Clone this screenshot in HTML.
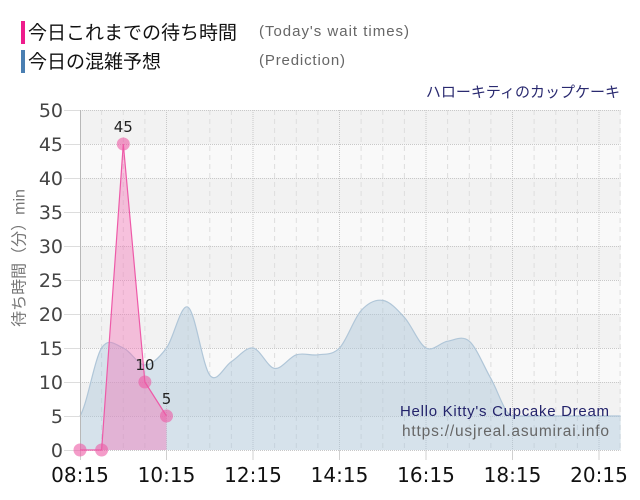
<!DOCTYPE html>
<html><head><meta charset="utf-8"><style>
html,body{margin:0;padding:0;background:#fff;}
svg{display:block;}
</style></head><body>
<svg width="640" height="500" viewBox="0 0 640 500" xmlns="http://www.w3.org/2000/svg">
<rect x="0" y="0" width="640" height="500" fill="#fff"/>
<!-- legend -->
<rect x="21" y="21" width="4" height="23" fill="#ee1c8c"/>
<rect x="21" y="50" width="4" height="23" fill="#4a7fb2"/>
<text x="28" y="39" font-family="'Liberation Sans','Noto Sans CJK JP',sans-serif" font-size="19" fill="#111">今日これまでの待ち時間</text>
<text x="28" y="68" font-family="'Liberation Sans','Noto Sans CJK JP',sans-serif" font-size="19" fill="#111">今日の混雑予想</text>
<text x="259" y="36" font-family="'Liberation Sans',sans-serif" font-size="15" fill="#666" textLength="150">(Today's wait times)</text>
<text x="259" y="65" font-family="'Liberation Sans',sans-serif" font-size="15" fill="#666" textLength="86">(Prediction)</text>
<text x="620" y="97" text-anchor="end" font-family="'Liberation Sans','Noto Sans CJK JP',sans-serif" font-size="15" fill="#2a2a70">ハローキティのカップケーキ</text>

<!-- bands -->
<g>
<rect x="80" y="110" width="540.6" height="34" fill="#f2f2f2"/>
<rect x="80" y="144" width="540.6" height="34" fill="#f9f9f9"/>
<rect x="80" y="178" width="540.6" height="34" fill="#f2f2f2"/>
<rect x="80" y="212" width="540.6" height="34" fill="#f9f9f9"/>
<rect x="80" y="246" width="540.6" height="34" fill="#f2f2f2"/>
<rect x="80" y="280" width="540.6" height="34" fill="#f9f9f9"/>
<rect x="80" y="314" width="540.6" height="34" fill="#f2f2f2"/>
<rect x="80" y="348" width="540.6" height="34" fill="#f9f9f9"/>
<rect x="80" y="382" width="540.6" height="34" fill="#f2f2f2"/>
<rect x="80" y="416" width="540.6" height="34" fill="#f9f9f9"/>
</g>
<!-- y tick lines left -->
<g stroke="#dddddd" stroke-width="1">
<line x1="64" y1="110.5" x2="80" y2="110.5"/>
<line x1="64" y1="144.5" x2="80" y2="144.5"/>
<line x1="64" y1="178.5" x2="80" y2="178.5"/>
<line x1="64" y1="212.5" x2="80" y2="212.5"/>
<line x1="64" y1="246.5" x2="80" y2="246.5"/>
<line x1="64" y1="280.5" x2="80" y2="280.5"/>
<line x1="64" y1="314.5" x2="80" y2="314.5"/>
<line x1="64" y1="348.5" x2="80" y2="348.5"/>
<line x1="64" y1="382.5" x2="80" y2="382.5"/>
<line x1="64" y1="416.5" x2="80" y2="416.5"/>
<line x1="64" y1="450.5" x2="80" y2="450.5"/>
</g>
<!-- minor vertical dashed -->
<g stroke="#dedede" stroke-width="1" stroke-dasharray="5 4">
<line x1="101.6" y1="110" x2="101.6" y2="450"/>
<line x1="123.3" y1="110" x2="123.3" y2="450"/>
<line x1="144.9" y1="110" x2="144.9" y2="450"/>
<line x1="188.1" y1="110" x2="188.1" y2="450"/>
<line x1="209.8" y1="110" x2="209.8" y2="450"/>
<line x1="231.4" y1="110" x2="231.4" y2="450"/>
<line x1="274.6" y1="110" x2="274.6" y2="450"/>
<line x1="296.3" y1="110" x2="296.3" y2="450"/>
<line x1="317.9" y1="110" x2="317.9" y2="450"/>
<line x1="361.1" y1="110" x2="361.1" y2="450"/>
<line x1="382.8" y1="110" x2="382.8" y2="450"/>
<line x1="404.4" y1="110" x2="404.4" y2="450"/>
<line x1="447.6" y1="110" x2="447.6" y2="450"/>
<line x1="469.3" y1="110" x2="469.3" y2="450"/>
<line x1="490.9" y1="110" x2="490.9" y2="450"/>
<line x1="534.1" y1="110" x2="534.1" y2="450"/>
<line x1="555.8" y1="110" x2="555.8" y2="450"/>
<line x1="577.4" y1="110" x2="577.4" y2="450"/>
<line x1="620.1" y1="110" x2="620.1" y2="450"/>
</g>
<!-- major vertical dotted -->
<g stroke="#c8c8c8" stroke-width="1" stroke-dasharray="1 1">
<line x1="166.5" y1="110" x2="166.5" y2="450"/>
<line x1="253" y1="110" x2="253" y2="450"/>
<line x1="339.5" y1="110" x2="339.5" y2="450"/>
<line x1="426" y1="110" x2="426" y2="450"/>
<line x1="512.5" y1="110" x2="512.5" y2="450"/>
<line x1="599" y1="110" x2="599" y2="450"/>
</g>
<!-- major ticks below -->
<g stroke="#d0d0d0" stroke-width="1">
<line x1="166.5" y1="450" x2="166.5" y2="460"/>
<line x1="253" y1="450" x2="253" y2="460"/>
<line x1="339.5" y1="450" x2="339.5" y2="460"/>
<line x1="426" y1="450" x2="426" y2="460"/>
<line x1="512.5" y1="450" x2="512.5" y2="460"/>
<line x1="599" y1="450" x2="599" y2="460"/>
<line x1="80.5" y1="450" x2="80.5" y2="460"/>
</g>
<!-- horizontal dotted grid -->
<g stroke="#c8c8c8" stroke-width="1" stroke-dasharray="1 1">
<line x1="80" y1="110.5" x2="620.6" y2="110.5"/>
<line x1="80" y1="144.5" x2="620.6" y2="144.5"/>
<line x1="80" y1="178.5" x2="620.6" y2="178.5"/>
<line x1="80" y1="212.5" x2="620.6" y2="212.5"/>
<line x1="80" y1="246.5" x2="620.6" y2="246.5"/>
<line x1="80" y1="280.5" x2="620.6" y2="280.5"/>
<line x1="80" y1="314.5" x2="620.6" y2="314.5"/>
<line x1="80" y1="348.5" x2="620.6" y2="348.5"/>
<line x1="80" y1="382.5" x2="620.6" y2="382.5"/>
<line x1="80" y1="416.5" x2="620.6" y2="416.5"/>
<line x1="80" y1="450.5" x2="620.6" y2="450.5"/>
</g>

<!-- prediction area -->
<path d="M80,416 C87.2,404.7 94.4,359.3 101.6,348 C108.8,336.7 116.1,345.2 123.3,348 C130.5,350.8 137.7,365 144.9,365 C152.1,365 159.3,357.6 166.5,348 C173.7,338.4 180.9,302.7 188.1,307.2 C195.3,311.7 202.6,366.1 209.8,375.2 C217,384.3 224.2,366.1 231.4,361.6 C238.6,357.1 245.8,346.9 253,348 C260.2,349.1 267.4,367.3 274.6,368.4 C281.8,369.5 289.1,357.1 296.3,354.8 C303.5,352.5 310.7,355.9 317.9,354.8 C325.1,353.7 332.3,355.4 339.5,348 C346.7,340.6 353.9,318.5 361.1,310.6 C368.3,302.7 375.6,299.3 382.8,300.4 C390,301.5 397.2,309.5 404.4,317.4 C411.6,325.3 418.8,344 426,348 C433.2,352 440.4,342.3 447.6,341.2 C454.8,340.1 462.1,335 469.3,341.2 C476.5,347.4 483.7,366.1 490.9,378.6 C498.1,391.1 505.3,416 512.5,416 L620.6,416 L620.6,450 L80,450 Z" fill="rgba(170,198,218,0.45)" stroke="none"/>
<path d="M80,416 C87.2,404.7 94.4,359.3 101.6,348 C108.8,336.7 116.1,345.2 123.3,348 C130.5,350.8 137.7,365 144.9,365 C152.1,365 159.3,357.6 166.5,348 C173.7,338.4 180.9,302.7 188.1,307.2 C195.3,311.7 202.6,366.1 209.8,375.2 C217,384.3 224.2,366.1 231.4,361.6 C238.6,357.1 245.8,346.9 253,348 C260.2,349.1 267.4,367.3 274.6,368.4 C281.8,369.5 289.1,357.1 296.3,354.8 C303.5,352.5 310.7,355.9 317.9,354.8 C325.1,353.7 332.3,355.4 339.5,348 C346.7,340.6 353.9,318.5 361.1,310.6 C368.3,302.7 375.6,299.3 382.8,300.4 C390,301.5 397.2,309.5 404.4,317.4 C411.6,325.3 418.8,344 426,348 C433.2,352 440.4,342.3 447.6,341.2 C454.8,340.1 462.1,335 469.3,341.2 C476.5,347.4 483.7,366.1 490.9,378.6 C498.1,391.1 505.3,416 512.5,416 L620.6,416" fill="none" stroke="#b0c6d8" stroke-width="1.2"/>

<!-- left axis -->
<line x1="80.5" y1="110" x2="80.5" y2="450" stroke="#b8b8b8" stroke-width="1"/>

<!-- today area -->
<path d="M80,450 L101.6,450 L123.3,144 L144.9,382 L166.5,416 L166.5,450 Z" fill="rgba(245,110,180,0.4)"/>
<path d="M80,450 L101.6,450 L123.3,144 L144.9,382 L166.5,416" fill="none" stroke="#ee5aa8" stroke-width="1.2"/>
<g fill="rgba(236,90,165,0.6)">
<circle cx="80" cy="450" r="6.5"/>
<circle cx="101.6" cy="450" r="6.5"/>
<circle cx="123.3" cy="144" r="6.5"/>
<circle cx="144.9" cy="382" r="6.5"/>
<circle cx="166.5" cy="416" r="6.5"/>
</g>
<g font-family="'DejaVu Sans',sans-serif" font-size="15" fill="#222" text-anchor="middle">
<text x="123.3" y="132">45</text>
<text x="144.9" y="370">10</text>
<text x="166.5" y="404">5</text>
</g>

<!-- y labels -->
<g font-family="'DejaVu Sans',sans-serif" font-size="19" fill="#444" text-anchor="end">
<text x="63" y="117">50</text>
<text x="63" y="151">45</text>
<text x="63" y="185">40</text>
<text x="63" y="219">35</text>
<text x="63" y="253">30</text>
<text x="63" y="287">25</text>
<text x="63" y="321">20</text>
<text x="63" y="355">15</text>
<text x="63" y="389">10</text>
<text x="63" y="423">5</text>
<text x="63" y="457">0</text>
</g>
<text transform="translate(24.5,258) rotate(-90)" text-anchor="middle" font-family="'Liberation Sans','Noto Sans CJK JP',sans-serif" font-size="16" fill="#777">待ち時間（分）min</text>

<!-- x labels -->
<g font-family="'DejaVu Sans',sans-serif" font-size="20" fill="#111" text-anchor="middle">
<text x="80" y="482">08:15</text>
<text x="166.5" y="482">10:15</text>
<text x="253" y="482">12:15</text>
<text x="339.5" y="482">14:15</text>
<text x="426" y="482">16:15</text>
<text x="512.5" y="482">18:15</text>
<text x="599" y="482">20:15</text>
</g>

<!-- watermark -->
<text x="609" y="416" text-anchor="end" font-family="'Liberation Sans',sans-serif" font-size="15" fill="#23236b" textLength="209">Hello Kitty's Cupcake Dream</text>
<text x="609" y="436" text-anchor="end" font-family="'Liberation Sans',sans-serif" font-size="15.5" fill="#666" textLength="207">https://usjreal.asumirai.info</text>
</svg>
</body></html>
